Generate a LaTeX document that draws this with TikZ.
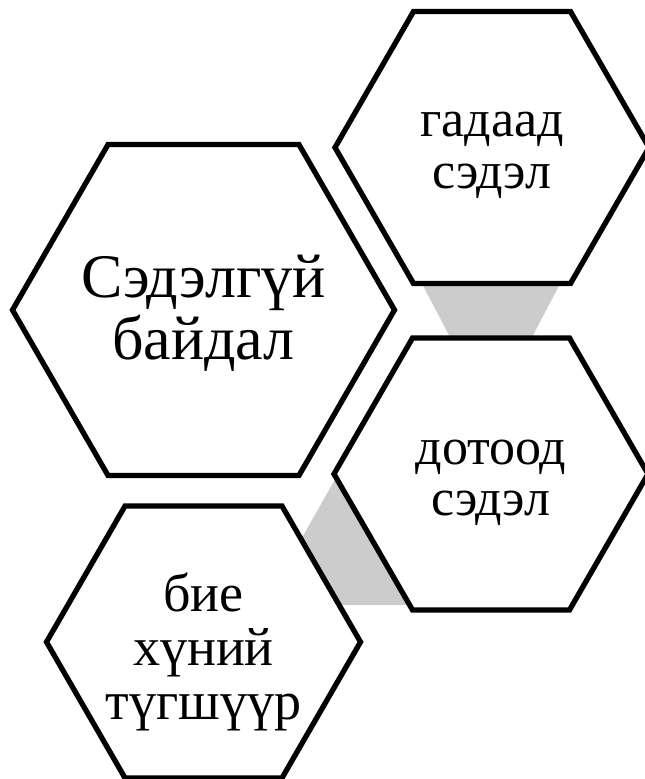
\documentclass[tikz,border=0pt]{standalone}
\usepackage{fontspec}
\setmainfont{Liberation Serif}
\usetikzlibrary{shapes.geometric}
\definecolor{linkgray}{HTML}{CCCCCC}
\tikzset{
  hexbox/.style={regular polygon, regular polygon sides=6,
    draw=black, fill=white, line width=5.3pt, inner sep=0pt},
  hextext/.style={align=center, inner sep=0pt, text=black},
  link/.style={fill=linkgray, draw=none}
}
\begin{document}
\begin{tikzpicture}[x=1pt,y=-1pt]
\useasboundingbox (0,0) rectangle (645,779);
% gray links (behind)
\coordinate (g1a) at (420,280);
\coordinate (g1b) at (562,280);
\coordinate (g1c) at (530,341);
\coordinate (g1d) at (452,341);
\fill[link] (g1a) -- (g1b) -- (g1c) -- (g1d) -- cycle;
\coordinate (g2a) at (338,474);
\coordinate (g2b) at (299,543);
\coordinate (g2c) at (339,605);
\coordinate (g2d) at (412,605);
\fill[link] (g2a) -- (g2b) -- (g2c) -- (g2d) -- cycle;
% hexagons
\node[hexbox, minimum size=382pt] (big) at (203.5,310) {};
\node[hexbox, minimum size=314pt] (ext) at (492,147.5) {};
\node[hexbox, minimum size=314pt] (int) at (491,474) {};
\node[hexbox, minimum size=314pt] (anx) at (203.5,642) {};
% texts
\node[hextext, font=\fontsize{62}{62}\selectfont] (tbig) at (203.5,313) {Сэдэлгүй\\байдал};
\node[hextext, font=\fontsize{52}{52}\selectfont] (text) at (492,155) {гадаад\\сэдэл};
\node[hextext, font=\fontsize{52}{51}\selectfont] (tint) at (491,483) {дотоод\\сэдэл};
\node[hextext, font=\fontsize{54}{54}\selectfont] (tanx) at (203.5,652) {бие\\хүний\\түгшүүр};
\end{tikzpicture}
\end{document}
